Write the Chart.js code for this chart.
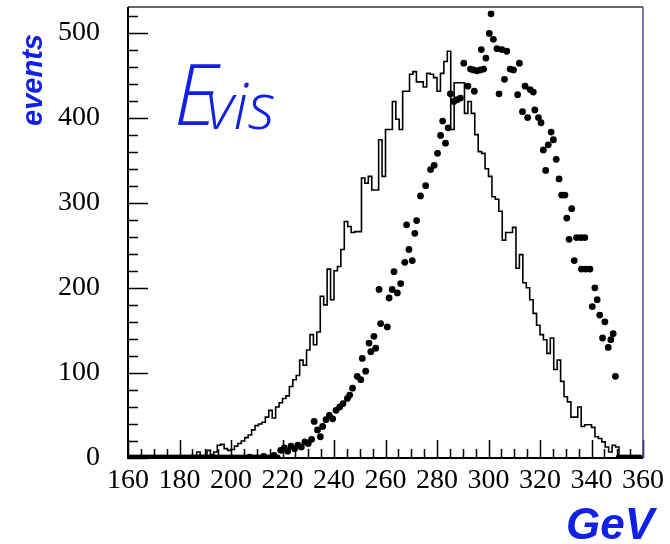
<!DOCTYPE html>
<html>
<head>
<meta charset="utf-8">
<script src="https://cdn.jsdelivr.net/npm/chart.js@4/dist/chart.umd.min.js"></script>
<style>
  html, body { margin: 0; padding: 0; background: #fff; }
  #wrap { width: 670px; height: 544px; }
</style>
</head>
<body>
<div id="wrap"><canvas id="chart" width="670" height="544"></canvas></div>
<script>
// histogram: 150 bins from 160 GeV, 4/3 GeV wide
const histStart = 160;
const histBinWidth = 4 / 3;
const histCounts = [
    0, 0, 0, 0, 0, 0, 0, 0, 0, 0,
    0, 0, 0, 0, 1, 0, 2, 0, 3, 1,
    7, 2, 3, 9, 4, 7, 15, 16, 11, 9,
    10, 14, 17, 20, 24, 27, 33, 38, 40, 42,
    48, 56, 47, 60, 65, 70, 73, 84, 92, 97,
    115, 109, 127, 145, 133, 148, 190, 180, 222, 186,
    220, 225, 245, 278, 272, 265, 266, 266, 329, 323,
    331, 315, 315, 374, 331, 386, 386, 419, 398, 386,
    431, 431, 451, 454, 442, 442, 436, 452, 451, 447,
    431, 452, 466, 478, 386, 441, 441, 441, 405, 419,
    405, 380, 360, 358, 340, 331, 307, 304, 290, 256,
    265, 265, 271, 223, 239, 206, 200, 186, 170, 156,
    145, 139, 123, 141, 104, 115, 90, 72, 66, 48,
    48, 60, 37, 39, 39, 36, 25, 23, 19, 13,
    7, 15, 13, 1, 0, 0, 0, 0, 0, 0
];

// data points (GeV, events)
const dotX = [
    160.7, 162, 163.3, 164.7, 166, 167.3, 168.7, 170, 171.3, 172.7,
    174, 175.3, 176.7, 178, 179.3, 180.7, 182, 183.3, 184.7, 186,
    187.3, 188.7, 190, 191.3, 192.7, 194, 195.3, 196.7, 198, 199.3,
    200.7, 202, 203.3, 204.7, 206, 207.3, 208.7, 210, 211.3, 212.7,
    214, 215.3, 216.7, 218,
    219.3, 220.7, 222, 223.3, 224.7, 226, 227.3, 228.7, 230, 231.3,
    232.3, 233.6, 234.7, 235.6, 236.9, 238.2, 239.5, 240.8, 242.2, 243.5,
    245.2, 246.1, 247.2, 249, 250.4, 251, 252.3, 253.6, 254.3, 255.5,
    256.2, 257.5, 258.1, 260.7, 261.4, 262.6, 263.3, 264.6, 265.9, 267.5,
    268.2, 269.1, 270.4, 271.4, 272.1, 273.6, 275.6, 277.5, 278.9, 280.2,
    281.4, 282.2, 283.3, 284.3, 285.2, 286.5, 287.8, 289.1, 290.4, 292,
    293, 294.2, 294.5, 295.5, 296.8, 297.2, 298.1, 299, 300.3, 301,
    301.9, 303.3, 304.1, 305.2, 306.2, 307.1, 308.4, 309.7, 311.3, 312,
    313.2, 314.2, 315.2, 316.2, 317.4, 318, 319.4, 320.4, 321.3, 322.2,
    323.2, 324.3, 325.2, 326.3, 327.4, 328.4, 329.7, 330.4, 331.3, 332.3,
    333.3, 334.2, 335.9, 336.1, 337.4, 337.7, 339.4, 340.3, 341.3, 342.2,
    343.2, 344.3, 345.2, 346.5, 347.5, 348.4, 349.3,
    350.7, 352, 353.3, 354.7, 356, 357.3, 358.7
];
const dotY = [
    0, 0, 0, 0, 0, 0, 0, 0, 0, 0,
    0, 0, 0, 0, 0, 0, 0, 0, 0, 0,
    0, 0, 0, 0, 0, 0, 0, 0, 0, 0,
    0, 0, 0, 0, 0, 1, 0, 0, 0, 2,
    0, 0, 3, 0,
    9, 12, 8, 14, 11, 15, 13, 19, 17, 22,
    43, 33, 25, 37, 45, 50, 46, 56, 60, 64,
    70, 74, 82, 96, 92, 117, 102, 135, 125, 143,
    129, 198, 158, 154, 188, 198, 219, 194, 205, 230,
    274, 245, 232, 264, 279, 308, 320, 339, 344, 358,
    379, 396, 370, 388, 428, 419, 421, 423, 464, 437,
    457, 456, 431, 455, 456, 480, 457, 470, 499, 522,
    492, 481, 428, 480, 445, 478, 457, 456, 427, 464,
    407, 437, 400, 433, 430, 409, 400, 394, 362, 338,
    368, 383, 374, 351, 328, 309, 309, 282, 257, 293,
    232, 259, 259, 222, 259, 222, 222, 178, 200, 186,
    168, 141, 160, 130, 139, 146, 96,
    0, 0, 0, 0, 0, 0, 0
];

const xMin = 160, xMax = 360;
const yMin = 0, yMax = 530;
const ink = '#1020e6';

const histPoints = histCounts.map((c, i) => ({x: histStart + i * histBinWidth, y: c}));
histPoints.push({x: xMax, y: histCounts[histCounts.length - 1]});
const dotPoints = dotX.map((x, i) => ({x: x, y: dotY[i]}));

// inward ticks, frame and the handwritten labels
const framePlugin = {
    id: 'framePlugin',
    afterDatasetsDraw(chart) {
        const {ctx, chartArea: a, scales: {x, y}} = chart;
        ctx.save();
        ctx.strokeStyle = '#000';
        ctx.lineWidth = 1.5;
        ctx.beginPath();
        for (let v = xMin; v <= xMax; v += 5) {
            const px = Math.round(x.getPixelForValue(v)) + 0.5;
            const len = v % 20 === 0 ? 18 : 9;
            ctx.moveTo(px, a.bottom);
            ctx.lineTo(px, a.bottom - len);
        }
        for (let v = yMin; v <= yMax; v += 20) {
            const py = Math.round(y.getPixelForValue(v)) + 0.5;
            const len = v % 100 === 0 ? 20 : 10;
            ctx.moveTo(a.left, py);
            ctx.lineTo(a.left + len, py);
        }
        ctx.stroke();

        ctx.lineWidth = 1.5;
        ctx.strokeStyle = '#333';
        ctx.beginPath();
        ctx.moveTo(a.left, a.top);
        ctx.lineTo(a.right, a.top);
        ctx.stroke();
        ctx.strokeStyle = '#4a4a9a';
        ctx.beginPath();
        ctx.moveTo(a.right, a.top);
        ctx.lineTo(a.right, a.bottom);
        ctx.stroke();
        ctx.strokeStyle = '#000';
        ctx.lineWidth = 2;
        ctx.beginPath();
        ctx.moveTo(a.left, a.top);
        ctx.lineTo(a.left, a.bottom);
        ctx.lineTo(a.right, a.bottom);
        ctx.stroke();

        ctx.fillStyle = ink;
        ctx.textBaseline = 'alphabetic';
        ctx.textAlign = 'left';
        ctx.font = 'italic 300 84px "Open Sans"';
        ctx.fillText('E', 174, 125);
        ctx.font = 'italic 300 64px "Open Sans"';
        ctx.fillText('vis', 206, 129);

        ctx.font = 'italic bold 44px "Liberation Sans"';
        ctx.fillText('GeV', 566, 539);

        ctx.save();
        ctx.translate(42, 80);
        ctx.rotate(-Math.PI / 2);
        ctx.textAlign = 'center';
        ctx.font = 'italic bold 29px "Liberation Sans"';
        ctx.fillText('events', 0, 0);
        ctx.restore();
        ctx.restore();
    }
};

new Chart(document.getElementById('chart'), {
    data: {
        datasets: [
            {
                type: 'scatter',
                label: 'data',
                data: dotPoints,
                backgroundColor: '#000',
                borderColor: '#000',
                pointRadius: 3.4,
                pointBorderWidth: 0,
                clip: 0
            },
            {
                type: 'line',
                label: 'MC',
                data: histPoints,
                stepped: 'before',
                borderColor: '#000',
                borderWidth: 1.6,
                pointRadius: 0,
                fill: false
            }
        ]
    },
    options: {
        responsive: false,
        animation: false,
        layout: {padding: {top: 7, right: 25, left: 0, bottom: 0}},
        plugins: {legend: {display: false}, tooltip: {enabled: false}},
        scales: {
            x: {
                type: 'linear',
                min: xMin,
                max: xMax,
                grid: {display: false, drawTicks: false},
                border: {display: false},
                ticks: {
                    stepSize: 20,
                    padding: 6,
                    maxRotation: 0,
                    autoSkip: false,
                    color: '#000',
                    font: {family: '"Liberation Serif"', size: 28}
                },
                afterFit: s => { s.height = 86; }
            },
            y: {
                type: 'linear',
                min: yMin,
                max: yMax,
                grid: {display: false, drawTicks: false},
                border: {display: false},
                ticks: {
                    stepSize: 100,
                    includeBounds: false,
                    padding: 28,
                    color: '#000',
                    font: {family: '"Liberation Serif"', size: 28}
                },
                afterFit: s => {
                    s.width = 128;
                    s.paddingTop = 0;
                    s.paddingBottom = 0;
                }
            }
        }
    },
    plugins: [framePlugin]
});
</script>
</body>
</html>
